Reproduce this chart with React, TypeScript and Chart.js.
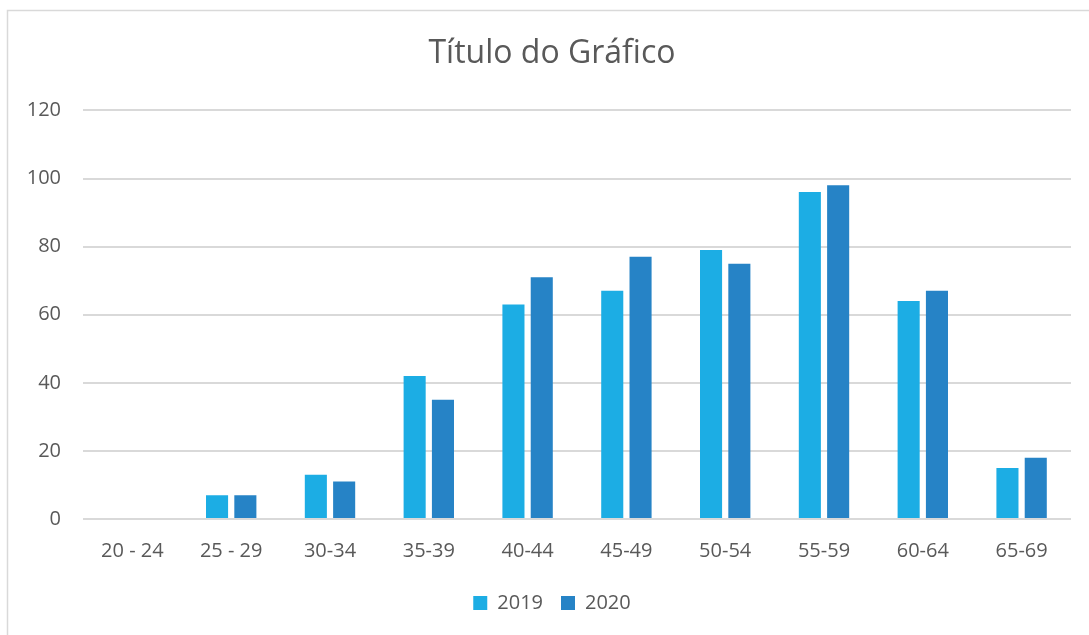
import React, { useEffect, useRef } from "react";
import { Chart, registerables } from "chart.js";

Chart.register(...registerables);

const categories = ["20 - 24", "25 - 29", "30-34", "35-39", "40-44", "45-49", "50-54", "55-59", "60-64", "65-69"];
const series2019 = [0, 7, 13, 42, 63, 67, 79, 96, 64, 15];
const series2020 = [0, 7, 11, 35, 71, 77, 75, 98, 67, 18];
const titleText = "Título do Gráfico";
const FONT = "'Open Sans', 'Liberation Sans', sans-serif";

const frame = {
  id: "frame",
  beforeDraw(chart: any) {
    const { ctx } = chart;
    ctx.save();
    ctx.fillStyle = "#ffffff";
    ctx.fillRect(0, 0, chart.width, chart.height);
    ctx.strokeStyle = "#d9d9d9";
    ctx.lineWidth = 1.5;
    ctx.beginPath();
    ctx.moveTo(7.5, chart.height + 5);
    ctx.lineTo(7.5, 10.5);
    ctx.lineTo(chart.width + 5, 10.5);
    ctx.stroke();
    ctx.restore();
  },
};

export default function App() {
  const ref = useRef<HTMLCanvasElement | null>(null);
  useEffect(() => {
    if (!ref.current) return;
    const chart = new Chart(ref.current, {
      type: "bar",
      data: {
        labels: categories,
        datasets: [
          { label: "2019", data: series2019, backgroundColor: "#1CADE4", categoryPercentage: 0.573, barPercentage: 0.78 },
          { label: "2020", data: series2020, backgroundColor: "#2683C6", categoryPercentage: 0.573, barPercentage: 0.78 },
        ],
      },
      options: {
        responsive: false,
        animation: false,
        layout: { padding: { left: 22, right: 7, top: 10, bottom: 12 } },
        plugins: {
          title: {
            display: true,
            text: titleText,
            color: "#595959",
            font: { family: FONT, size: 32, weight: "normal" },
            padding: { top: 25, bottom: 37 },
          },
          legend: {
            position: "bottom",
            labels: {
              color: "#595959",
              font: { family: FONT, size: 20 },
              boxWidth: 14,
              boxHeight: 14,
              padding: 18,
            },
          },
          tooltip: { enabled: false },
        },
        scales: {
          x: {
            grid: { display: false, drawTicks: false },
            border: { display: false },
            ticks: { color: "#595959", font: { family: FONT, size: 20 }, padding: 20, maxRotation: 0 },
            afterFit: (s: any) => { s.height = 56; },
          },
          y: {
            min: 0,
            max: 120,
            ticks: { stepSize: 20, color: "#595959", font: { family: FONT, size: 20 }, padding: 22 },
            grid: { color: "#d9d9d9", lineWidth: 2, drawTicks: false },
            border: { display: false },
            afterFit: (s: any) => { s.width = 61; },
          },
          yRight: {
            position: "right",
            display: true,
            min: 0,
            max: 120,
            grid: { display: false, drawTicks: false },
            border: { display: false },
            ticks: { display: false },
            afterFit: (s: any) => { s.width = 11; },
          },
        },
      },
      plugins: [frame],
    });
    return () => chart.destroy();
  }, []);
  return (
    <div style={{ position: "absolute", left: 0, top: 0, width: 1089, height: 635 }}>
      <canvas ref={ref} width={1089} height={635} style={{ display: "block" }} />
    </div>
  );
}
